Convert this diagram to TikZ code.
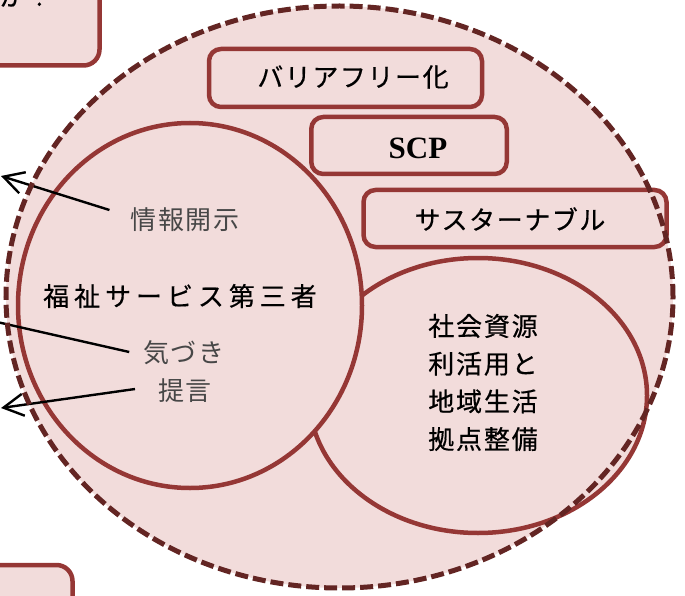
\documentclass[tikz,border=0pt]{standalone}
\usepackage{fontspec}
\setmainfont{Liberation Serif}
\newfontfamily\jpa[LetterSpace=6,FakeBold=0.4]{Noto Sans CJK JP}
\newfontfamily\jpg[LetterSpace=6]{Noto Sans CJK JP}
\newfontfamily\jpb[LetterSpace=7,FakeBold=0.5]{Noto Sans CJK JP}
\newfontfamily\jpc[LetterSpace=19,FakeBold=0.4]{Noto Sans CJK JP}
\usetikzlibrary{arrows.meta,shapes.geometric}
\definecolor{pinkfill}{HTML}{F2DCDB}
\definecolor{rimred}{HTML}{953735}
\definecolor{darkrim}{HTML}{632523}
\begin{document}
\begin{tikzpicture}[x=1pt,y=-1pt,
  boxstyle/.style={rectangle, draw=rimred, line width=4.5pt, fill=pinkfill, rounded corners=12pt, inner sep=0pt},
  ringstyle/.style={ellipse, draw=rimred, line width=4.5pt, fill=pinkfill, inner sep=0pt},
  jptext/.style={inner sep=0pt, font=\jpa\fontsize{26}{30}\selectfont, text=black},
  graytext/.style={inner sep=0pt, font=\jpg\fontsize{26}{30}\selectfont, text=black!72},
  arr/.style={-{Straight Barb[length=20pt,width=22pt]}, line width=2.4pt, black},
  plainline/.style={line width=2.4pt, black}
]
\useasboundingbox (0,0) rectangle (685,596);
\clip (0,0) rectangle (685,596);

% partial boxes at the left edge
\node[boxstyle, rounded corners=16pt, minimum width=149.5pt, minimum height=115.5pt] (tlbox) at (24.75,7.75) {};
\node[jptext] (tltext) at (26,-4) {か？};
\node[boxstyle, rounded corners=16pt, minimum width=122.5pt, minimum height=85pt] (blbox) at (11.25,607.5) {};

% big dashed ellipse (fill)
\node[ellipse, fill=pinkfill, inner sep=0pt, minimum width=667pt, minimum height=582pt] (outer) at (339.5,297) {};

% right ellipse and left circle
\node[ringstyle, minimum width=338pt, minimum height=275pt] (resource) at (478,395.5) {};
\node[ringstyle, minimum width=344pt, minimum height=365pt] (welfare) at (190,305.5) {};

% boxes
\node[boxstyle, minimum width=273pt, minimum height=58pt] (bf) at (345.5,78) {};
\node[jptext] (bftext) at (353,77) {バリアフリー化};
\node[boxstyle, minimum width=195.5pt, minimum height=57pt] (scp) at (409,145.5) {};
\node[inner sep=0pt, font=\bfseries\fontsize{31}{34}\selectfont] (scptext) at (418,148) {SCP};
\node[boxstyle, minimum width=303pt, minimum height=57pt] (sus) at (515,218.5) {};
\node[jptext] (sustext) at (510,219) {サスターナブル};

% texts in left circle
\node[graytext] (info) at (185,220) {情報開示};
\node[inner sep=0pt, font=\jpc\fontsize{26}{30}\selectfont] (third) at (180,296) {福祉サービス第三者};
\node[graytext] (kiz) at (184,353) {気づき};
\node[graytext] (teigen) at (185,391) {提言};

% text in right ellipse
\node[inner sep=0pt, align=center, font=\jpb\fontsize{26}{37.7}\selectfont] (restext) at (483,382.5) {社会資源\\利活用と\\地域生活\\拠点整備};

% connectors
\coordinate (a1) at (1,176);
\coordinate (a2) at (-3,322);
\coordinate (a3) at (1,408);
\draw[arr] ([xshift=-21pt,yshift=10pt]info.west) -- (a1);
\draw[plainline] ([xshift=-14pt,yshift=1pt]kiz.west) -- (a2);
\draw[arr] ([xshift=-23pt,yshift=2pt]teigen.west) -- (a3);

% dashed outline on top
\node[ellipse, draw=darkrim, line width=5pt, dash pattern=on 13pt off 5pt, inner sep=0pt, minimum width=667pt, minimum height=582pt] (outerline) at (outer.center) {};
\end{tikzpicture}
\end{document}
